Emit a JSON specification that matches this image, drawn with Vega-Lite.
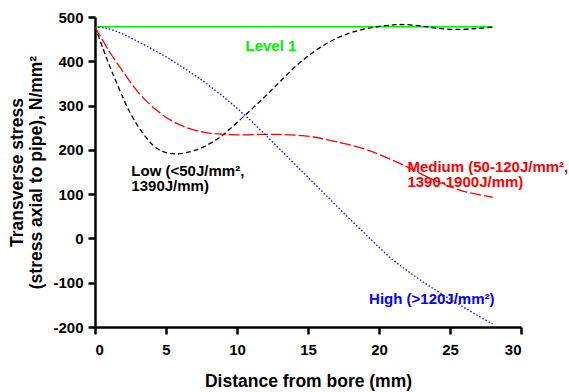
{
  "$schema": "https://vega.github.io/schema/vega-lite/v6.json",
  "autosize": "none",
  "width": 426,
  "height": 310,
  "padding": {"left": 95, "top": 17, "right": 48, "bottom": 65},
  "background": "white",
  "config": {
    "font": "Liberation Sans",
    "view": {"stroke": null},
    "axis": {
      "grid": false,
      "domainColor": "black",
      "domainWidth": 2.5,
      "tickColor": "black",
      "tickWidth": 2.5,
      "tickSize": 7,
      "labelFont": "Liberation Sans",
      "labelFontSize": 15,
      "labelFontWeight": "bold",
      "labelColor": "black",
      "titleFont": "Liberation Sans",
      "titleFontSize": 17.5,
      "titleFontWeight": "bold",
      "titleColor": "black"
    }
  },
  "datasets": {
    "curves": [
      {"series": "Level 1", "x": 0, "y": 478},
      {"series": "Level 1", "x": 28, "y": 478},

      {"series": "Low", "x": 0, "y": 478},
      {"series": "Low", "x": 0.56, "y": 429},
      {"series": "Low", "x": 1.0, "y": 392},
      {"series": "Low", "x": 1.5, "y": 353},
      {"series": "Low", "x": 2.44, "y": 286},
      {"series": "Low", "x": 3.38, "y": 237},
      {"series": "Low", "x": 4.32, "y": 204},
      {"series": "Low", "x": 5.0, "y": 194},
      {"series": "Low", "x": 5.8, "y": 191},
      {"series": "Low", "x": 7.14, "y": 200},
      {"series": "Low", "x": 8.55, "y": 223},
      {"series": "Low", "x": 9.49, "y": 247},
      {"series": "Low", "x": 10.66, "y": 281},
      {"series": "Low", "x": 11.83, "y": 316},
      {"series": "Low", "x": 13.0, "y": 353},
      {"series": "Low", "x": 14.18, "y": 390},
      {"series": "Low", "x": 15.35, "y": 420},
      {"series": "Low", "x": 16.53, "y": 444},
      {"series": "Low", "x": 17.7, "y": 461},
      {"series": "Low", "x": 18.87, "y": 472},
      {"series": "Low", "x": 20.05, "y": 479},
      {"series": "Low", "x": 21.0, "y": 482},
      {"series": "Low", "x": 21.7, "y": 483},
      {"series": "Low", "x": 22.9, "y": 480},
      {"series": "Low", "x": 24.0, "y": 475},
      {"series": "Low", "x": 25.45, "y": 472},
      {"series": "Low", "x": 26.86, "y": 474},
      {"series": "Low", "x": 28, "y": 477},

      {"series": "Medium", "x": 0, "y": 478},
      {"series": "Medium", "x": 1.03, "y": 421},
      {"series": "Medium", "x": 1.97, "y": 377},
      {"series": "Medium", "x": 3.15, "y": 326},
      {"series": "Medium", "x": 4.32, "y": 290},
      {"series": "Medium", "x": 5.49, "y": 264},
      {"series": "Medium", "x": 6.67, "y": 248},
      {"series": "Medium", "x": 7.85, "y": 239},
      {"series": "Medium", "x": 9.0, "y": 235},
      {"series": "Medium", "x": 10.2, "y": 234},
      {"series": "Medium", "x": 11.83, "y": 235},
      {"series": "Medium", "x": 13.0, "y": 235},
      {"series": "Medium", "x": 14.2, "y": 233},
      {"series": "Medium", "x": 15.4, "y": 229},
      {"series": "Medium", "x": 16.5, "y": 222},
      {"series": "Medium", "x": 18.9, "y": 203},
      {"series": "Medium", "x": 20.05, "y": 189},
      {"series": "Medium", "x": 21.7, "y": 166},
      {"series": "Medium", "x": 24.0, "y": 130},
      {"series": "Medium", "x": 25.9, "y": 107},
      {"series": "Medium", "x": 28, "y": 93},

      {"series": "High", "x": 0, "y": 478},
      {"series": "High", "x": 1, "y": 473},
      {"series": "High", "x": 2, "y": 461},
      {"series": "High", "x": 3, "y": 445},
      {"series": "High", "x": 4, "y": 428},
      {"series": "High", "x": 5, "y": 410},
      {"series": "High", "x": 6, "y": 390},
      {"series": "High", "x": 7, "y": 369},
      {"series": "High", "x": 8, "y": 346},
      {"series": "High", "x": 9, "y": 321},
      {"series": "High", "x": 10, "y": 294},
      {"series": "High", "x": 11, "y": 265},
      {"series": "High", "x": 12, "y": 234},
      {"series": "High", "x": 13, "y": 202},
      {"series": "High", "x": 14, "y": 170},
      {"series": "High", "x": 15, "y": 138},
      {"series": "High", "x": 16, "y": 106},
      {"series": "High", "x": 17, "y": 74},
      {"series": "High", "x": 18, "y": 42},
      {"series": "High", "x": 19, "y": 11},
      {"series": "High", "x": 20, "y": -20},
      {"series": "High", "x": 21, "y": -49},
      {"series": "High", "x": 22, "y": -73},
      {"series": "High", "x": 23, "y": -96},
      {"series": "High", "x": 24, "y": -117},
      {"series": "High", "x": 25, "y": -137},
      {"series": "High", "x": 26, "y": -156},
      {"series": "High", "x": 27, "y": -175},
      {"series": "High", "x": 28, "y": -193}
    ],
    "labels": [
      {"series": "Level 1", "x": 10.6, "y": 423, "text": ["Level 1"]},
      {"series": "Low", "x": 2.56, "y": 142, "text": ["Low (<50J/mm²,", "1390J/mm)"]},
      {"series": "Medium", "x": 22.0, "y": 151, "text": ["Medium (50-120J/mm²,", "1390-1900J/mm)"]},
      {"series": "High", "x": 19.3, "y": -148, "text": ["High (>120J/mm²)"]}
    ]
  },
  "layer": [
    {
      "data": {"name": "curves"},
      "mark": {"type": "line", "strokeWidth": 1.3, "interpolate": "catmull-rom", "clip": false},
      "encoding": {
        "x": {
          "field": "x",
          "type": "quantitative",
          "scale": {"domain": [0, 30], "nice": false},
          "axis": {
            "values": [0, 5, 10, 15, 20, 25, 30],
            "labelPadding": 8,
            "title": "Distance from bore (mm)",
            "titlePadding": 15
          }
        },
        "y": {
          "field": "y",
          "type": "quantitative",
          "scale": {"domain": [-200, 500], "nice": false, "zero": false},
          "axis": {
            "values": [-200, -100, 0, 100, 200, 300, 400, 500],
            "labelExpr": "'' + datum.value",
            "labelPadding": 5,
            "title": ["Transverse stress", "(stress axial to pipe), N/mm²"],
            "titleLineHeight": 19,
            "titlePadding": 7
          }
        },
        "color": {
          "field": "series",
          "type": "nominal",
          "scale": {
            "domain": ["Level 1", "Low", "Medium", "High"],
            "range": ["#00ee00", "#000000", "#ff0000", "#0000ff"]
          },
          "legend": null
        },
        "strokeDash": {
          "field": "series",
          "type": "nominal",
          "scale": {
            "domain": ["Level 1", "Low", "Medium", "High"],
            "range": [[1, 0], [5, 3], [11, 3], [1.5, 2]]
          },
          "legend": null
        },
        "detail": {"field": "series"}
      }
    },
    {
      "data": {"name": "labels"},
      "mark": {
        "type": "text",
        "align": "left",
        "baseline": "alphabetic",
        "fontSize": 15,
        "fontWeight": "bold",
        "lineHeight": 15.5,
        "font": "Liberation Sans"
      },
      "encoding": {
        "x": {"field": "x", "type": "quantitative"},
        "y": {"field": "y", "type": "quantitative"},
        "text": {"field": "text"},
        "color": {
          "field": "series",
          "type": "nominal",
          "scale": {
            "domain": ["Level 1", "Low", "Medium", "High"],
            "range": ["#00ee00", "#000000", "#ff0000", "#0000ff"]
          },
          "legend": null
        }
      }
    }
  ]
}
